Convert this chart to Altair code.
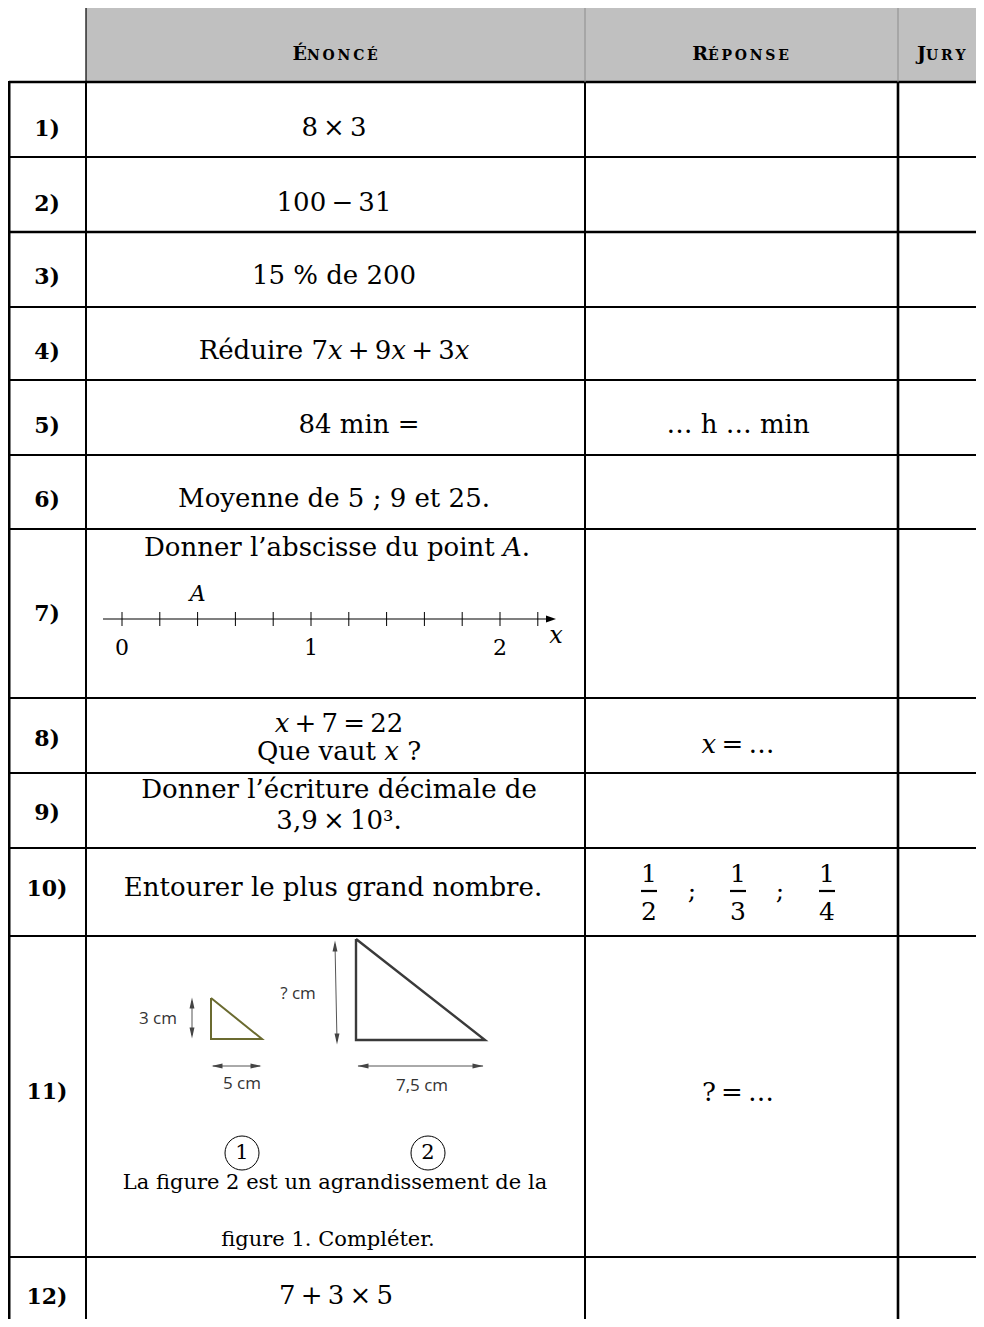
import altair as alt
import pandas as pd

T = "\u2009"  # thin space, as in math typesetting

# ---------------- content ----------------
labels = ["1)", "2)", "3)", "4)", "5)", "6)", "7)", "8)", "9)", "10)", "11)", "12)"]
label_y = [129, 204, 277, 352, 426, 500, 614, 739, 813, 889, 1092, 1297]

header_first = ["É", "R", "J"]
header_rest = [T.join("NONCÉ"), T.join("ÉPONSE"), T.join("URY")]

enonce_text = [
    f"8{T}×{T}3", f"100{T}−{T}31", "15 % de 200", f"Réduire 7𝑥{T}+{T}9𝑥{T}+{T}3𝑥", "84 min =",
    "Moyenne de 5 ; 9 et 25.", "Donner l’abscisse du point 𝐴.",
    f"𝑥{T}+{T}7{T}={T}22", "Que vaut 𝑥 ?", "Donner l’écriture décimale de", f"3,9{T}×{T}10³.",
    "Entourer le plus grand nombre.", f"7{T}+{T}3{T}×{T}5",
]
enonce_y = [128, 203, 276, 351, 425, 499, 548, 724, 752, 790, 821, 888, 1296]
enonce_x = [334, 334, 334, 334, 359, 334, 337, 339, 339, 339, 339, 333, 336]

reponse_text = ["… h … min", f"𝑥{T}={T}…", f"?{T}={T}…"]
reponse_y = [425, 745, 1093]

fig_caption = ["La figure 2 est un agrandissement de la", "figure 1. Compléter."]
fig_caption_y = [1183, 1240]

# number line (row 7)
nl_ticks = [0, 0.2, 0.4, 0.6, 0.8, 1.0, 1.2, 1.4, 1.6, 1.8, 2.0, 2.2]
nl_labels = ["0", "1", "2"]
nl_label_v = [0, 1, 2]
point_A = 0.4

# fractions (row 10)
frac_num = ["1", "1", "1"]
frac_den = ["2", "3", "4"]

# figure (row 11)
fig_dim_labels = ["3 cm", "? cm", "5 cm", "7,5 cm"]
circle_labels = ["1", "2"]

# ---------------- layout ----------------
X0, X1 = 8, 976
Y0, Y1 = 8, 1319
ROW_EDGES = [82, 157, 232, 307, 380, 455, 529, 698, 773, 848, 936, 1257]
HEAD_TOP = 7
C_LEFT, C_NUM, C_REP, C_JURY = 9, 86, 585, 898
SERIF = "DejaVu Serif"
SANS = "Open Sans"
FS = 26

xs = alt.Scale(domain=[X0, X1], nice=False, zero=False)
ys = alt.Scale(domain=[Y0, Y1], nice=False, zero=False, reverse=True)


def X(f):
    return alt.X(f, type="quantitative", scale=xs, axis=None)


def Y(f):
    return alt.Y(f, type="quantitative", scale=ys, axis=None)


def X2(f):
    return alt.X2(f)


def Y2(f):
    return alt.Y2(f)


layers = []

# header background
hdr = pd.DataFrame([{"x": C_NUM, "x2": X1, "y": HEAD_TOP, "y2": ROW_EDGES[0]}])
layers.append(alt.Chart(hdr).mark_rect(color="#c0c0c0").encode(
    x=X("x"), x2=X2("x2"), y=Y("y"), y2=Y2("y2")))

# rules
rules = []
for i, yy in enumerate(ROW_EDGES):
    rules.append({"x": C_LEFT, "x2": X1, "y": yy, "y2": yy,
                  "w": 2.6 if i in (0, 2) else 2.0, "c": "black"})
rules += [
    {"x": C_LEFT, "x2": C_LEFT, "y": ROW_EDGES[0] - 1, "y2": Y1, "w": 3, "c": "black"},
    {"x": C_NUM, "x2": C_NUM, "y": ROW_EDGES[0], "y2": Y1, "w": 2, "c": "black"},
    {"x": C_REP, "x2": C_REP, "y": ROW_EDGES[0], "y2": Y1, "w": 2, "c": "black"},
    {"x": C_JURY, "x2": C_JURY, "y": ROW_EDGES[0], "y2": Y1, "w": 2.6, "c": "black"},
    {"x": C_NUM, "x2": X1, "y": HEAD_TOP, "y2": HEAD_TOP, "w": 1.2, "c": "black"},
    {"x": C_NUM, "x2": C_NUM, "y": HEAD_TOP, "y2": ROW_EDGES[0], "w": 1.2, "c": "black"},
    {"x": C_REP, "x2": C_REP, "y": HEAD_TOP, "y2": ROW_EDGES[0], "w": 1, "c": "#8c8c8c"},
    {"x": C_JURY, "x2": C_JURY, "y": HEAD_TOP, "y2": ROW_EDGES[0], "w": 1, "c": "#8c8c8c"},
]
layers.append(alt.Chart(pd.DataFrame(rules)).mark_rule().encode(
    x=X("x"), x2=X2("x2"), y=Y("y"), y2=Y2("y2"),
    strokeWidth=alt.StrokeWidth("w:Q", scale=None),
    color=alt.Color("c:N", scale=None)))

# header text (small caps imitation)
hx = [307, 708, 926]
hfirst = pd.DataFrame({"x": hx, "y": [60] * 3, "t": header_first})
hrest = pd.DataFrame({"x": hx, "y": [60] * 3, "t": header_rest})
layers.append(alt.Chart(hfirst).mark_text(font=SERIF, fontWeight="bold", fontSize=19,
                                          align="right", baseline="alphabetic").encode(
    x=X("x"), y=Y("y"), text="t:N"))
layers.append(alt.Chart(hrest).mark_text(font=SERIF, fontWeight="bold", fontSize=14,
                                         align="left", baseline="alphabetic").encode(
    x=X("x"), y=Y("y"), text="t:N"))

# row labels
lab = pd.DataFrame({"x": [47] * len(labels), "y": label_y, "t": labels})
layers.append(alt.Chart(lab).mark_text(font=SERIF, fontWeight="bold", fontSize=22,
                                       baseline="middle").encode(
    x=X("x"), y=Y("y"), text="t:N"))

# enonce texts
en = pd.DataFrame({"x": enonce_x, "y": enonce_y, "t": enonce_text})
layers.append(alt.Chart(en).mark_text(font=SERIF, fontSize=FS, baseline="middle").encode(
    x=X("x"), y=Y("y"), text="t:N"))

# reponse texts
rp = pd.DataFrame({"x": [738] * 3, "y": reponse_y, "t": reponse_text})
layers.append(alt.Chart(rp).mark_text(font=SERIF, fontSize=FS, baseline="middle").encode(
    x=X("x"), y=Y("y"), text="t:N"))

# figure caption
cap = pd.DataFrame({"x": [335, 328], "y": fig_caption_y, "t": fig_caption})
layers.append(alt.Chart(cap).mark_text(font=SERIF, fontSize=21, baseline="middle").encode(
    x=X("x"), y=Y("y"), text="t:N"))

# ---- number line ----
NL_X0, NL_UNIT, NL_Y = 122, 189, 619
ticks = pd.DataFrame({"v": nl_ticks})
layers.append(alt.Chart(ticks).transform_calculate(
    px=f"{NL_X0} + datum.v * {NL_UNIT}", y1=f"{NL_Y - 7}", y2=f"{NL_Y + 7}"
).mark_rule(color="black", strokeWidth=1).encode(x=X("px:Q"), y=Y("y1:Q"), y2=Y2("y2:Q")))
axisline = pd.DataFrame([{"x": 103, "x2": 551, "y": NL_Y}])
layers.append(alt.Chart(axisline).mark_rule(color="black", strokeWidth=1.2).encode(
    x=X("x"), x2=X2("x2"), y=Y("y")))
head = pd.DataFrame([{"x": 551, "y": NL_Y}])
layers.append(alt.Chart(head).mark_point(shape="M-1,-0.7L1,0L-1,0.7Z", size=100, filled=True,
                                         color="black", opacity=1).encode(x=X("x"), y=Y("y")))
nll = pd.DataFrame({"v": nl_label_v, "t": nl_labels, "y": [648] * 3})
layers.append(alt.Chart(nll).transform_calculate(px=f"{NL_X0} + datum.v * {NL_UNIT}").mark_text(
    font=SERIF, fontSize=22, baseline="middle").encode(x=X("px:Q"), y=Y("y:Q"), text="t:N"))
pa = pd.DataFrame({"v": [point_A], "t": ["A"], "y": [594]})
layers.append(alt.Chart(pa).transform_calculate(px=f"{NL_X0} + datum.v * {NL_UNIT}").mark_text(
    font=SERIF, fontStyle="italic", fontSize=22, baseline="middle").encode(
    x=X("px:Q"), y=Y("y:Q"), text="t:N"))
xl = pd.DataFrame([{"x": 556, "y": 636, "t": "x"}])
layers.append(alt.Chart(xl).mark_text(font=SERIF, fontStyle="italic", fontSize=24,
                                      baseline="middle").encode(x=X("x"), y=Y("y"), text="t:N"))

# ---- fractions ----
fx = [649, 738, 827]
fn = pd.DataFrame({"x": fx, "y": [874] * 3, "t": frac_num})
fd = pd.DataFrame({"x": fx, "y": [912] * 3, "t": frac_den})
layers.append(alt.Chart(fn).mark_text(font=SERIF, fontSize=25, baseline="middle").encode(
    x=X("x"), y=Y("y"), text="t:N"))
layers.append(alt.Chart(fd).mark_text(font=SERIF, fontSize=25, baseline="middle").encode(
    x=X("x"), y=Y("y"), text="t:N"))
fb = pd.DataFrame({"x": [v - 8 for v in fx], "x2": [v + 8 for v in fx], "y": [891] * 3})
layers.append(alt.Chart(fb).mark_rule(color="black", strokeWidth=2.2).encode(
    x=X("x"), x2=X2("x2"), y=Y("y")))
sc = pd.DataFrame({"x": [692, 780], "y": [891, 891], "t": [";", ";"]})
layers.append(alt.Chart(sc).mark_text(font=SERIF, fontSize=25, baseline="middle").encode(
    x=X("x"), y=Y("y"), text="t:N"))

# ---- figure: triangles ----
tri = pd.DataFrame([
    {"g": "s", "o": 0, "x": 211, "y": 998}, {"g": "s", "o": 1, "x": 211, "y": 1039},
    {"g": "s", "o": 2, "x": 262, "y": 1039}, {"g": "s", "o": 3, "x": 211, "y": 998},
    {"g": "b", "o": 0, "x": 356, "y": 939}, {"g": "b", "o": 1, "x": 356, "y": 1040},
    {"g": "b", "o": 2, "x": 485, "y": 1040}, {"g": "b", "o": 3, "x": 356, "y": 939},
])
tri["c"] = tri["g"].map({"s": "#6b6b30", "b": "#3a3a3a"})
tri["w"] = tri["g"].map({"s": 2.0, "b": 2.4})
layers.append(alt.Chart(tri).mark_line(strokeJoin="miter").encode(
    x=X("x"), y=Y("y"), detail="g:N", order="o:Q",
    color=alt.Color("c:N", scale=None), strokeWidth=alt.StrokeWidth("w:Q", scale=None)))

# arrows
arr = pd.DataFrame([
    {"x": 192, "x2": 192, "y": 1001, "y2": 1035},
    {"x": 213, "x2": 260, "y": 1066, "y2": 1066},
    {"x": 335, "x2": 337, "y": 944, "y2": 1041},
    {"x": 358, "x2": 483, "y": 1066, "y2": 1066},
])
layers.append(alt.Chart(arr).mark_rule(color="#555555", strokeWidth=1).encode(
    x=X("x"), x2=X2("x2"), y=Y("y"), y2=Y2("y2")))
UP = "M0,-1L0.45,1L-0.45,1Z"
DOWN = "M0,1L0.45,-1L-0.45,-1Z"
LEFT = "M-1,0L1,-0.45L1,0.45Z"
RIGHT = "M1,0L-1,-0.45L-1,0.45Z"
heads = pd.DataFrame([
    {"x": 192, "y": 1003, "s": UP}, {"x": 192, "y": 1033, "s": DOWN},
    {"x": 217, "y": 1066, "s": LEFT}, {"x": 256, "y": 1066, "s": RIGHT},
    {"x": 335, "y": 946, "s": UP}, {"x": 337, "y": 1039, "s": DOWN},
    {"x": 363, "y": 1066, "s": LEFT}, {"x": 478, "y": 1066, "s": RIGHT},
])
layers.append(alt.Chart(heads).mark_point(filled=True, color="#444444", opacity=1, size=120).encode(
    x=X("x"), y=Y("y"), shape=alt.Shape("s:N", scale=None)))

dims = pd.DataFrame({"x": [158, 298, 242, 422], "y": [1019, 994, 1084, 1086], "t": fig_dim_labels})
layers.append(alt.Chart(dims).mark_text(font=SANS, fontSize=17, color="#333333",
                                        baseline="middle").encode(x=X("x"), y=Y("y"), text="t:N"))

circ = pd.DataFrame({"x": [242, 428], "y": [1153, 1153], "t": circle_labels})
layers.append(alt.Chart(circ).mark_point(shape="circle", size=1156, filled=False,
                                         color="black", strokeWidth=1, opacity=1).encode(
    x=X("x"), y=Y("y")))
layers.append(alt.Chart(circ).mark_text(font=SERIF, fontSize=21, baseline="middle").encode(
    x=X("x"), y=Y("y"), text="t:N"))

chart = alt.layer(*layers).properties(
    width=X1 - X0, height=Y1 - Y0, padding=0,
    autosize=alt.AutoSizeParams(type="none"),
).configure_view(stroke=None)

chart.save("out.html", embed_options={"renderer": "svg", "actions": False})
